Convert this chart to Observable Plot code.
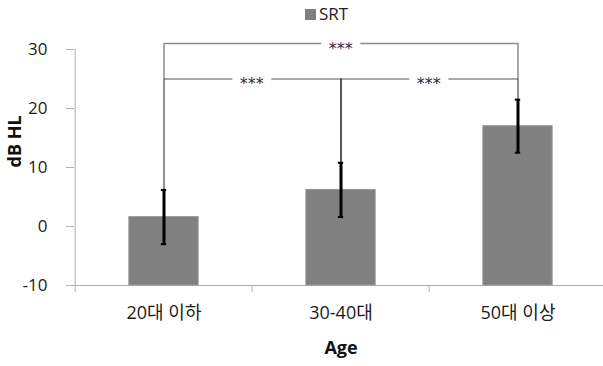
<!DOCTYPE html>
<html><head><meta charset="utf-8">
<script src="https://cdn.jsdelivr.net/npm/d3@7"></script>
<script src="https://cdn.jsdelivr.net/npm/@observablehq/plot@0.6"></script>
<style>
body{margin:0;background:#fff;font-family:"Open Sans","Noto Sans CJK KR",sans-serif;}
#legend{position:relative;height:30px;width:603px;}
#legend .sw{position:absolute;left:305px;top:9px;width:11px;height:11px;background:#808080;}
#legend .lb{position:absolute;left:319px;top:3px;font-size:17px;line-height:22px;color:#222;}
#chart svg{display:block;}
</style></head><body>
<div id="legend"><span class="sw"></span><span class="lb" id="lgText"></span></div>
<div id="chart"></div>
<script>
// ---- data ----
const categories = ["20대 이하", "30-40대", "50대 이상"];
const means = [1.6, 6.2, 17.0];
const sds = [4.6, 4.6, 4.5];
const yTicks = [-10, 0, 10, 20, 30];
const yMin = -10, yMax = 30;
const seriesName = "SRT";
const sigFrom = [0, 0, 1];
const sigTo = [2, 1, 2];
const sigLevel = [31, 25, 25];
const sigLabel = ["***", "***", "***"];
const xTitle = "Age";
const yTitle = "dB HL";

// ---- layout ----
const W = 603, H = 336, ML = 74, MR = -4, MT = 19, MB = 81;
const step = (W - ML - MR) / categories.length;
const barW = 70, capW = 6;
const axisGray = "#b0b0b0", bracketGray = "#8c8c8c";
const FONT = '"Open Sans","Noto Sans CJK KR",sans-serif';

document.getElementById("lgText").textContent = seriesName;

const rows = categories.map((c, i) => ({cat: c, mean: means[i], lo: means[i] - sds[i], hi: means[i] + sds[i]}));
const brackets = sigFrom.map((f, k) => ({from: f, to: sigTo[k], level: sigLevel[k], label: sigLabel[k]}));

// legs: drop from each bracket end to the next bracket below at that bar, else to the error-bar top
const legsGray = [], legsDark = [];
brackets.forEach((b, k) => {
  for (const e of [b.from, b.to]) {
    const below = brackets.filter((o, j) => j !== k && o.level < b.level && (o.from === e || o.to === e)).map(o => o.level);
    if (below.length) legsGray.push({cat: categories[e], top: b.level, bottom: Math.max(...below)});
    else legsDark.push({cat: categories[e], top: b.level, bottom: rows[e].hi});
  }
});

const starMarks = brackets.map(b => Plot.text([b], {
  x: d => categories[d.from], y: "level", text: "label",
  dx: (b.to - b.from) * step / 2 - 1, dy: 5,
  fontSize: 16, fill: "#2a2a48", stroke: "white", strokeWidth: 16, paintOrder: "stroke",
  textAnchor: "middle", lineAnchor: "middle", fontFamily: "DejaVu Sans"
}));

const chart = Plot.plot({
  width: W, height: H,
  marginLeft: ML, marginRight: MR, marginTop: MT, marginBottom: MB,
  style: {fontFamily: FONT, fontSize: "17px", color: "#1a1a1a", background: "white"},
  x: {type: "band", domain: categories, padding: 0},
  y: {domain: [yMin, yMax]},
  marks: [
    Plot.ruleY([yMin], {stroke: axisGray}),
    Plot.ruleX([categories[0]], {x: d => d, y1: yMax, y2: yMin, dx: -step / 2, insetBottom: -7, stroke: axisGray}),
    Plot.ruleX(categories.slice(1), {x: d => d, y1: yMin, y2: yMin, dx: -step / 2, insetBottom: -7, stroke: axisGray}),
    Plot.axisY({ticks: yTicks, tickFormat: d => String(d), tickSize: 8, tickPadding: 19, stroke: axisGray, label: null, fontSize: 17}),
    Plot.axisX({tickSize: 0, tickPadding: 21, label: null, fontSize: 18}),
    Plot.barY(rows, {x: "cat", y1: yMin, y2: "mean", fill: "#808080", stroke: "#9a9a9a", strokeWidth: 1,
      insetLeft: (step - barW) / 2, insetRight: (step - barW) / 2}),
    Plot.link(brackets, {x1: d => categories[d.from], x2: d => categories[d.to], y1: "level", y2: "level",
      stroke: bracketGray, strokeWidth: 1.5}),
    Plot.ruleX(legsGray, {x: "cat", y1: "top", y2: "bottom", stroke: bracketGray, strokeWidth: 1.5}),
    Plot.ruleX(legsDark, {x: "cat", y1: "top", y2: "bottom", stroke: "#222", strokeWidth: 1}),
    ...starMarks,
    Plot.ruleX(rows, {x: "cat", y1: "lo", y2: "hi", stroke: "#000", strokeWidth: 3}),
    Plot.tickY(rows, {x: "cat", y: "hi", stroke: "#000", strokeWidth: 2,
      insetLeft: (step - capW) / 2, insetRight: (step - capW) / 2}),
    Plot.tickY(rows, {x: "cat", y: "lo", stroke: "#000", strokeWidth: 2,
      insetLeft: (step - capW) / 2, insetRight: (step - capW) / 2}),
    Plot.text([yTitle], {frameAnchor: "left", dx: -59, rotate: -90, fontWeight: "bold", fontSize: 18, fill: "#111"}),
    Plot.text([xTitle], {frameAnchor: "bottom", dy: 68, fontWeight: "bold", fontSize: 18, fill: "#111"})
  ]
});
document.getElementById("chart").appendChild(chart);
</script>
</body></html>
